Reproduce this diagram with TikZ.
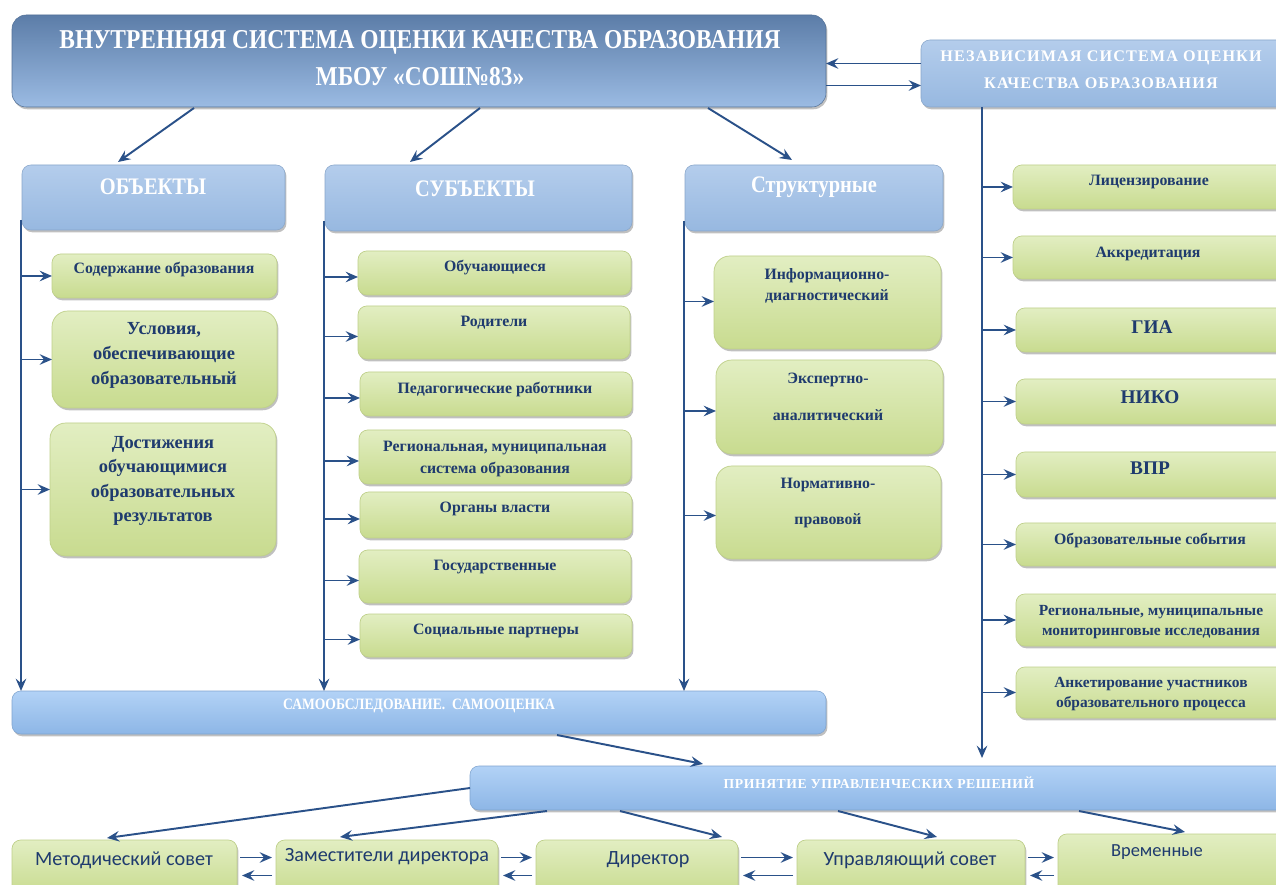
\documentclass[tikz,border=0pt]{standalone}
\usepackage{fontspec}
\setmainfont{Liberation Serif}
\newfontfamily\condfont[FakeStretch=0.86]{Liberation Serif}
\newfontfamily\spacedfont[LetterSpace=7]{Liberation Serif}
\newfontfamily\spacedfontb[LetterSpace=4]{Liberation Serif}
\newfontfamily\calibfont{Carlito}
\usetikzlibrary{shadows,arrows.meta,calc}
\definecolor{ArrC}{HTML}{2A5189}
\definecolor{TxtC}{HTML}{1F3B6E}
\definecolor{GTop}{HTML}{E2EEC2}
\definecolor{GBot}{HTML}{C8DB8F}
\definecolor{GEdge}{HTML}{BFD08A}
\definecolor{BTop}{HTML}{B4CDEC}
\definecolor{BBot}{HTML}{97B8E0}
\definecolor{TTop}{HTML}{5C7DA8}
\definecolor{TBot}{HTML}{9BBBE3}
\definecolor{STop}{HTML}{B2D2F6}
\definecolor{SBot}{HTML}{8DB6E6}
\newcommand\mybox[6]{\node[#1, minimum width={(#5-#3)*0.02cm}, minimum height={(#6-#4)*0.02cm}] (#2) at ({(#3+#5)/2},{(#4+#6)/2}) {};}
\newcommand\mytext[5]{\node[#1] (#2) at (#3,#4) {#5};}
\begin{document}
\begin{tikzpicture}[x=0.02cm,y=-0.02cm,
  arr/.style={draw=ArrC, line width=1.1pt, -{Stealth[length=7pt,width=6pt,inset=2.5pt]}},
  basebox/.style={rounded corners=5pt, inner sep=0pt, outer sep=0pt,
     drop shadow={shadow xshift=0.8pt, shadow yshift=-1.3pt, opacity=0.35, fill=black!70}},
  gbox/.style={basebox, top color=GTop, bottom color=GBot, draw=GEdge, line width=0.4pt},
  gboxr/.style={gbox, rounded corners=9pt},
  hbox/.style={basebox, top color=BTop, bottom color=BBot, draw=BBot!90!black, line width=0.3pt},
  tbox/.style={basebox, rounded corners=8pt, top color=TTop, bottom color=TBot, draw=TTop!90!black, line width=0.3pt},
  sbox/.style={basebox, top color=STop, bottom color=SBot, draw=SBot!90!black, line width=0.3pt},
  gtxt/.style={text=TxtC, font=\bfseries\fontsize{9}{13}\selectfont, align=center, inner sep=0pt},
  btxt/.style={text=TxtC, font=\bfseries\fontsize{11}{13}\selectfont, align=center, inner sep=0pt},
  ctxt/.style={text=TxtC, font=\calibfont\fontsize{11.5}{13}\selectfont, align=center, inner sep=0pt},
  htxt/.style={text=white, font=\condfont\bfseries\fontsize{13.5}{15}\selectfont, align=center, inner sep=0pt},
]
\useasboundingbox (0,0) rectangle (1276,885);
\clip (0,0) rectangle (1276,885);
\fill[white] (0,0) rectangle (1276,885);

% ---------- top ----------
\mybox{tbox}{title}{12}{15}{826}{107}
\mytext{text=white, font=\condfont\bfseries\fontsize{15.5}{19}\selectfont, inner sep=0pt}{t1}{420}{42}{ВНУТРЕННЯЯ СИСТЕМА ОЦЕНКИ КАЧЕСТВА ОБРАЗОВАНИЯ}
\mytext{text=white, font=\condfont\bfseries\fontsize{15.5}{19}\selectfont, inner sep=0pt}{t2}{420}{77}{МБОУ «СОШ№83»}

\mybox{hbox}{ind}{921}{40}{1290}{107}
\mytext{text=white, font=\spacedfont\bfseries\fontsize{9.2}{14}\selectfont, inner sep=0pt}{i1}{1101}{58}{НЕЗАВИСИМАЯ СИСТЕМА ОЦЕНКИ}
\mytext{text=white, font=\spacedfont\bfseries\fontsize{9.2}{14}\selectfont, inner sep=0pt}{i2}{1101}{83}{КАЧЕСТВА ОБРАЗОВАНИЯ}

\draw[arr] ($(ind.west)+(0,-10)$) coordinate (a1) -- (title.east |- a1);
\draw[arr] ($(ind.west)+(0,12)$) coordinate (a2) (title.east |- a2) -- (a2);

% ---------- headers ----------
\mybox{hbox}{obj}{22}{165}{285}{230}
\mytext{htxt}{objt}{153}{187}{ОБЪЕКТЫ}
\mybox{hbox}{subj}{325}{165}{632}{231}
\mytext{htxt}{subjt}{475}{189}{СУБЪЕКТЫ}
\mybox{hbox}{str}{685}{165}{943}{231}
\mytext{htxt}{strt}{814}{187}{Структурные}

\draw[arr] ($(title.south west)+(182,1)$) -- ($(obj.north west)+(96,-3)$);
\draw[arr] ($(title.south west)+(468,1)$) -- ($(subj.north west)+(85,-3)$);
\draw[arr] ($(title.south west)+(696,1)$) -- ($(str.north west)+(107,-5)$);

% ---------- self-assessment & decisions ----------
\mybox{sbox}{samo}{12}{691}{826}{734}
\mytext{text=white, font=\condfont\bfseries\fontsize{9}{11}\selectfont, inner sep=0pt}{samot}{419}{706}{САМООБСЛЕДОВАНИЕ.\ \ САМООЦЕНКА}
\mybox{sbox}{prin}{470}{766}{1290}{810}
\mytext{text=white, font=\spacedfontb\bfseries\fontsize{7.8}{11}\selectfont, inner sep=0pt}{print}{879}{783}{ПРИНЯТИЕ УПРАВЛЕНЧЕСКИХ РЕШЕНИЙ}

% ---------- objects column ----------
\mybox{gbox}{o1}{52}{254}{277}{298}
\mytext{gtxt}{o1t}{164}{270}{Содержание образования}
\mybox{gboxr}{o2}{52}{311}{277}{408}
\mytext{gtxt, font=\bfseries\fontsize{10.5}{14.2}\selectfont}{o2t}{164}{355}{Условия,\\обеспечивающие\\образовательный}
\mybox{gboxr}{o3}{50}{423}{276}{556}
\mytext{gtxt, font=\bfseries\fontsize{10.5}{14}\selectfont}{o3t}{163}{481}{Достижения\\обучающимися\\образовательных\\результатов}
\coordinate (oT) at ($(obj.south west)+(-1,-10)$);
\draw[arr] (oT) -- (oT |- samo.north);
\draw[arr] (oT |- o1.west) -- (o1.west);
\draw[arr] (oT |- o2.west) -- (o2.west);
\draw[arr] (oT |- o3.west) -- (o3.west);

% ---------- subjects column ----------
\mybox{gbox}{s1}{358}{251}{631}{295}
\mytext{gtxt}{s1t}{495}{268}{Обучающиеся}
\mybox{gbox}{s2}{358}{306}{630}{359}
\mytext{gtxt}{s2t}{494}{323}{Родители}
\mybox{gbox}{s3}{360}{372}{632}{416}
\mytext{gtxt}{s3t}{495}{390}{Педагогические работники}
\mybox{gbox}{s4}{359}{430}{631}{484}
\mytext{gtxt, font=\bfseries\fontsize{9}{12.5}\selectfont}{s4t}{495}{459}{Региональная, муниципальная\\система образования}
\mybox{gbox}{s5}{360}{492}{632}{538}
\mytext{gtxt}{s5t}{495}{509}{Органы власти}
\mybox{gbox}{s6}{359}{550}{631}{603}
\mytext{gtxt}{s6t}{495}{567}{Государственные}
\mybox{gbox}{s7}{360}{614}{632}{657}
\mytext{gtxt}{s7t}{496}{631}{Социальные партнеры}
\coordinate (sT) at ($(subj.south west)+(-1,-10)$);
\draw[arr] (sT) -- (sT |- samo.north);
\foreach \b in {s1,s2,s3,s4,s5,s6,s7}{
  \draw[arr] ($(sT |- \b.west)+(0,4)$) -- ($(\b.west)+(0,4)$);
}

% ---------- structural column ----------
\mybox{gboxr}{c1}{714}{256}{941}{349}
\mytext{gtxt, font=\bfseries\fontsize{9}{12}\selectfont}{c1t}{827}{286}{Информационно-\\диагностический}
\mybox{gboxr}{c2}{716}{360}{943}{454}
\mytext{gtxt, font=\bfseries\fontsize{9}{21}\selectfont}{c2t}{828}{397}{Экспертно-\\аналитический}
\mybox{gboxr}{c3}{716}{466}{941}{559}
\mytext{gtxt, font=\bfseries\fontsize{9}{21}\selectfont}{c3t}{828}{503}{Нормативно-\\правовой}
\coordinate (cT) at ($(str.south west)+(-1,-10)$);
\draw[arr] (cT) -- (cT |- samo.north);
\draw[arr] ($(cT |- c1.west)+(0,-1)$) -- ($(c1.west)+(0,-1)$);
\draw[arr] ($(cT |- c2.west)+(0,4)$) -- ($(c2.west)+(0,4)$);
\draw[arr] ($(cT |- c3.west)+(0,3)$) -- ($(c3.west)+(0,3)$);

% ---------- independent column ----------
\mybox{gbox}{r1}{1013}{165}{1290}{209}
\mytext{gtxt}{r1t}{1149}{182}{Лицензирование}
\mybox{gbox}{r2}{1013}{236}{1290}{279}
\mytext{gtxt}{r2t}{1148}{254}{Аккредитация}
\mybox{gbox}{r3}{1016}{308}{1290}{352}
\mytext{btxt}{r3t}{1152}{327}{ГИА}
\mybox{gbox}{r4}{1016}{379}{1290}{424}
\mytext{btxt}{r4t}{1150}{397}{НИКО}
\mybox{gbox}{r5}{1016}{452}{1290}{497}
\mytext{btxt}{r5t}{1150}{468}{ВПР}
\mybox{gbox}{r6}{1016}{523}{1290}{566}
\mytext{gtxt}{r6t}{1150}{541}{Образовательные события}
\mybox{gbox}{r7}{1016}{594}{1290}{646}
\mytext{gtxt, font=\bfseries\fontsize{8.8}{11.5}\selectfont}{r7t}{1151}{622}{Региональные, муниципальные\\мониторинговые исследования}
\mybox{gbox}{r8}{1016}{667}{1290}{718}
\mytext{gtxt, font=\bfseries\fontsize{8.8}{11.5}\selectfont}{r8t}{1151}{694}{Анкетирование участников\\образовательного процесса}
\coordinate (rT) at ($(ind.south west)+(61,0)$);
\draw[arr] (rT) -- ($(rT |- prin.north)+(0,-8)$);
\draw[arr] (rT |- r1.west) -- (r1.west);
\draw[arr] (rT |- r2.west) -- (r2.west);
\draw[arr] (rT |- r3.west) -- (r3.west);
\draw[arr] (rT |- r4.west) -- (r4.west);
\draw[arr] (rT |- r5.west) -- (r5.west);
\draw[arr] (rT |- r6.west) -- (r6.west);
\draw[arr] (rT |- r7.west) -- (r7.west);
\draw[arr] (rT |- r8.west) -- (r8.west);

\draw[arr] ($(samo.south west)+(545,1)$) -- ($(prin.north west)+(233,-2)$);

% ---------- bottom row ----------
\mybox{gbox}{met}{12}{840}{237}{895}
\mytext{ctxt}{mett}{124}{860}{Методический совет}
\mybox{gbox}{zam}{276}{840}{498}{895}
\mytext{ctxt}{zamt}{387}{857}{Заместители директора}
\mybox{gbox}{dir}{536}{840}{738}{895}
\mytext{ctxt}{dirt}{648}{860}{Директор}
\mybox{gbox}{upr}{797}{840}{1025}{895}
\mytext{ctxt}{uprt}{910}{860}{Управляющий совет}
\mybox{gbox}{vrem}{1058}{834}{1290}{895}
\mytext{ctxt, font=\calibfont\fontsize{10.5}{13}\selectfont}{vremt}{1157}{852}{Временные}

\draw[arr] (prin.west) -- ($(met.north west)+(95,-2)$);
\draw[arr] ($(prin.south west)+(77,1)$) -- ($(zam.north west)+(64,-3)$);
\draw[arr] ($(prin.south west)+(150,1)$) -- ($(dir.north west)+(186,-3)$);
\draw[arr] ($(prin.south west)+(368,1)$) -- ($(upr.north west)+(140,-3)$);
\draw[arr] ($(prin.south west)+(609,1)$) -- ($(vrem.north west)+(127,-2)$);

\draw[arr] ($(met.east)+(3,-10)$) -- ($(zam.west)+(-4,-10)$);
\draw[arr] ($(zam.west)+(-4,8)$) -- ($(met.east)+(5,8)$);
\draw[arr] ($(zam.east)+(3,-10)$) -- ($(dir.west)+(-4,-10)$);
\draw[arr] ($(dir.west)+(-4,8)$) -- ($(zam.east)+(5,8)$);
\draw[arr] ($(dir.east)+(3,-10)$) -- ($(upr.west)+(-4,-10)$);
\draw[arr] ($(upr.west)+(-4,8)$) -- ($(dir.east)+(5,8)$);
\draw[arr] ($(upr.east)+(3,-10)$) -- ($(vrem.west |- upr.east)+(-4,-10)$);
\draw[arr] ($(vrem.west |- upr.east)+(-4,8)$) -- ($(upr.east)+(5,8)$);
\end{tikzpicture}
\end{document}
